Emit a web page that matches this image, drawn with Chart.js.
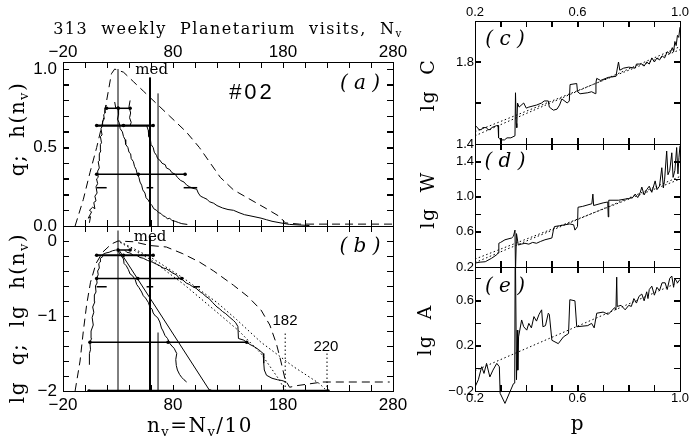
<!DOCTYPE html>
<html lang="en">
<head>
<meta charset="UTF-8">
<title>Planetarium visits</title>
<style>
body{margin:0;background:#fff}
#fig{position:relative;width:690px;height:439px;overflow:hidden}
#fig canvas{position:absolute}
.t{position:absolute;white-space:pre;font:20px "DejaVu Serif",serif;letter-spacing:1.5px;transform:translate(-50%,-50%)}
.r{transform:translate(-50%,-50%) rotate(-90deg)}
.t sub{font-size:.65em;vertical-align:baseline;position:relative;top:.3em}
</style>
</head>
<body>
<div id="fig">
<canvas id="pa"></canvas><canvas id="pb"></canvas><canvas id="pc"></canvas><canvas id="pd"></canvas><canvas id="pe"></canvas>
<div class="t" style="left:228px;top:28px;font-size:16px">313  weekly  Planetarium  visits,  N<sub>v</sub></div>
<div class="t r" style="left:17px;top:129px">q;  h(n<sub>v</sub>)</div>
<div class="t r" style="left:17px;top:318px">lg  q;  lg  h(n<sub>v</sub>)</div>
<div class="t" style="left:200px;top:425px">n<sub>v</sub>=N<sub>v</sub>/10</div>
<div class="t r" style="left:427px;top:85px;font-size:19px">lg  C</div>
<div class="t r" style="left:427px;top:200px;font-size:19px">lg  W</div>
<div class="t r" style="left:424px;top:330px;font-size:19px">lg  A</div>
<div class="t" style="left:578px;top:423px">p</div>
</div>
<script src="https://cdn.jsdelivr.net/npm/chart.js"></script>
<script>
// tick labels
const nLabels=[-20,80,180,280], qLabels=[0,0.5,1], lgqLabels=[-2,-1,0];
const pLabels=[0.2,0.6,1], cLabels=[1.4,1.8], wLabels=[0.2,0.6,1,1.4], aLabels=[-0.2,0.2,0.6];

// (a) q and h(n_v)
const hDashA=[[-9,0],[-1.5,.17],[4.5,.34],[10.6,.5],[16.7,.68],[19.7,.8],[24,.97],[27,1],[35,.98],[44,.92],[53,.86],[65,.78],[77,.7],[92,.6],[104,.5],[114,.4],[123,.31],[135,.23],[150,.17],[165,.11],[177,.06],[182,.02],[195,.012],[280,.012]];
const qRiseA=[[4,.02],[5,.06],[3,.05],[6,.09],[4,.1],[7,.12],[9,.11],[8,.15],[10,.16],[9,.19],[11,.21],[10,.25],[11.5,.27],[10.5,.3],[12,.31],[11.5,.35],[13,.37],[12,.41],[13.5,.42],[13,.46],[14.5,.48],[14,.52],[15,.53],[14,.57],[15.5,.58],[14.5,.62],[16,.64],[16,.67],[17.5,.68],[17,.71],[18.5,.72],[18,.75],[19.5,.77]];
const qMidA=[[27,.79],[28,.75],[30,.76],[30.5,.71],[29.5,.68],[31,.66],[32,.62],[34,.6],[35,.57],[36.5,.55],[37,.52],[39,.5],[40,.47],[41.5,.46],[42,.43],[44,.41],[45,.38],[46.5,.36],[47.5,.33],[49,.31],[50,.28],[51.5,.26],[52.5,.23],[54.5,.21],[55.5,.18],[57.5,.165],[59,.145],[61,.13],[62.5,.11],[65,.1],[67,.085],[69,.08],[71,.065],[73,.06],[75,.045],[77,.05],[79,.035],[82,.03],[85,.022],[88,.015],[93,.01]];
const qRightA=[[41,.8],[40,.76],[41.5,.72],[40.5,.69],[42,.66],[41,.64],[56,.64],[57.5,.61],[58,.57],[59.5,.55],[60,.52],[62,.5],[63,.47],[65,.45],[66,.43],[68,.42],[70,.4],[73,.39],[74,.37],[77,.36],[79,.34],[82,.33],[84,.31],[87,.29],[90,.28],[92.5,.26],[95,.25],[98,.24],[101.5,.235],[103,.21],[105,.19],[108,.18],[111,.17],[113,.155],[117,.145],[120,.13],[125,.115],[130,.105],[135,.1],[140,.085],[145,.072],[150,.065],[160,.05],[165,.04],[170,.03],[180,.017],[186,.01],[204,.003]];
const vertA=[[30,1],[66.4,.845]], medA=[59.1,.947];
const barsA=[[[19.7,.75],[30.3,.75],[41,.75]],[[10.6,.64],[35,.64],[62,.64]],[[10.6,.33],[48.5,.33],[91,.33]]];
const capsA=[[[10.6,.244],[19.7,.244]],[[56,.244],[62,.244]],[[89.7,.244],[102,.244]]];

// (b) lg q and lg h(n_v)
const hDashB=[[-9,-2],[-4.5,-1.6],[-1.5,-1.2],[1.5,-.85],[5,-.55],[10,-.3],[16,-.15],[24,-.04],[30,0],[44,-.01],[59,-.06],[74,-.08],[89,-.17],[104,-.28],[117,-.4],[135,-.59],[148,-.74],[160,-.92],[168,-1.12],[174,-1.37],[178,-1.6],[182,-1.85],[186,-1.95],[192,-1.93],[216,-1.88],[277,-1.88]];
const lgRiseB=[[4,-1.65],[4,-1.5],[5,-1.45],[4.5,-1.35],[6,-1.3],[5.5,-1.2],[7.5,-1.12],[6.5,-1.02],[8,-.95],[7,-.88],[9,-.81],[8.5,-.72],[10,-.68],[9.5,-.6],[11,-.56],[10.5,-.5],[12,-.45],[11.5,-.4],[13,-.36],[12.5,-.3],[14,-.28],[14,-.23],[16,-.21],[16,-.18],[19,-.16],[22,-.15],[25,-.13],[28,-.12]];
const lgMidB=[[30,-.12],[31.5,-.17],[33,-.2],[35,-.24],[35.5,-.3],[37.5,-.33],[39.4,-.38],[41,-.44],[43,-.46],[45.5,-.51],[47,-.58],[49,-.62],[51.5,-.68],[53,-.73],[55,-.76],[57.6,-.82],[59,-.88],[61,-.91],[62,-.96],[64,-1],[66,-1.02],[68,-1.08],[69.5,-1.16],[71,-1.2],[72.7,-1.26],[75,-1.3],[77.3,-1.37],[79,-1.4],[81,-1.43],[83.4,-1.5],[82.5,-1.58],[83,-1.66],[84,-1.72],[86,-1.78],[88,-1.82],[90,-1.85],[92.4,-1.88]];
const lgFitB=[[30,-.1],[113.6,-2]];
const lgRightB=[[36,-.12],[38,-.15],[41,-.16],[44,-.19],[47,-.19],[50,-.22],[53,-.23],[57,-.26],[61,-.28],[65,-.31],[68,-.33],[71,-.36],[74,-.37],[77,-.4],[80,-.43],[83,-.45],[86,-.5],[89,-.52],[92,-.56],[95,-.58],[98,-.61],[101,-.63],[104,-.67],[107,-.7],[110,-.74],[113,-.77],[116,-.82],[120,-.88],[122,-.9],[125,-.94],[128,-.97],[131,-1.01],[135,-1.06],[137,-1.09],[139,-1.14],[139.5,-1.3],[144,-1.32],[147,-1.35],[150,-1.38],[154,-1.41],[158,-1.45],[162,-1.5],[162.5,-1.63],[163,-1.72],[165,-1.79],[170,-1.83],[175,-1.85],[179,-1.86],[183,-1.88]];
const dot182=[[32,-.02],[60,-.25],[90,-.58],[120,-.95],[140,-1.2],[160,-1.5],[177,-1.86],[182,-2]];
const dot220=[[32,-.01],[60,-.22],[90,-.5],[120,-.82],[138,-1.05],[160,-1.35],[190,-1.68],[213,-1.9],[220,-2]];
const cutoffs=[[182,-1.21],[220,-1.5]], vertB=[[30,.14],[66.4,-1.22]], medB=[59.1,.05];
const barsB=[[[30,-.12],[41,-.12]],[[10.6,-.19],[35,-.19],[62,-.19]],[[10.6,-.5],[48,-.5],[88,-.5]],[[4.5,-1.35],[75.5,-1.35],[147,-1.35]]];
const capsB=[[[10.6,-.61],[19.7,-.61]],[[56,-.61],[62,-.61]],[[98.5,-.61],[104.5,-.61]]];
const baseB=[[3.6,-2],[113.6,-2],[221,-2]];

// (c)-(e) versus p
const lgC=[[.2,1.49],[.21,1.48],[.215,1.47],[.225,1.47],[.23,1.48],[.245,1.48],[.25,1.47],[.26,1.47],[.265,1.48],[.285,1.49],[.29,1.49],[.292,1.43],[.3,1.42],[.315,1.42],[.325,1.43],[.34,1.43],[.356,1.44],[.358,1.65],[.361,1.5],[.363,1.48],[.366,1.6],[.372,1.58],[.39,1.6],[.4,1.575],[.41,1.58],[.44,1.59],[.46,1.6],[.47,1.61],[.486,1.61],[.49,1.58],[.506,1.565],[.52,1.57],[.53,1.59],[.539,1.62],[.56,1.6],[.568,1.61],[.571,1.69],[.597,1.695],[.6,1.655],[.61,1.645],[.64,1.65],[.655,1.655],[.669,1.646],[.672,1.7],[.675,1.72],[.69,1.71],[.72,1.725],[.75,1.73],[.757,1.78],[.76,1.8],[.765,1.76],[.78,1.77],[.8,1.775],[.825,1.77],[.83,1.79],[.85,1.79],[.86,1.78],[.87,1.8],[.88,1.79],[.89,1.82],[.9,1.8],[.91,1.82],[.92,1.81],[.93,1.83],[.94,1.82],[.95,1.85],[.96,1.84],[.97,1.87],[.975,1.85],[.98,1.9],[.985,1.88],[.99,1.93],[.995,1.92],[1,1.97]];
const fitC=[[[.2,1.44],[1,1.875]],[[.2,1.46],[1,1.86]]];
const lgW=[[.2,.245],[.22,.255],[.24,.26],[.265,.3],[.285,.34],[.291,.36],[.293,.47],[.3,.48],[.317,.51],[.343,.53],[.35,.55],[.356,.62],[.358,.15],[.362,.58],[.369,.45],[.38,.46],[.395,.47],[.41,.46],[.425,.48],[.44,.47],[.455,.49],[.473,.51],[.5,.53],[.506,.62],[.51,.66],[.53,.67],[.57,.69],[.585,.68],[.59,.62],[.6,.66],[.602,.88],[.62,.89],[.656,.92],[.66,1.03],[.663,.9],[.7,.93],[.718,.94],[.72,.77],[.722,.96],[.76,.96],[.8,.98],[.815,.99],[.825,1.03],[.835,.99],[.845,1.05],[.851,1.11],[.86,1.02],[.87,1.08],[.88,1.12],[.89,1.05],[.903,1.18],[.91,1.08],[.92,1.12],[.929,1.33],[.935,1.1],[.94,1.2],[.948,1.52],[.953,1.25],[.96,1.3],[.968,1.5],[.973,1.22],[.98,1.3],[.987,1.56],[.992,1.26],[.996,1.45],[1,1.58]];
const fitW=[[[.2,.25],[1,1.23]],[[.2,.29],[1,1.2]]];
const lgA=[[.2,.1],[.201,-.16],[.213,-.1],[.226,.015],[.235,-.044],[.245,.045],[.258,-.075],[.27,-.015],[.285,.045],[.295,.015],[.298,-.22],[.317,-.31],[.35,-.135],[.355,-.13],[.357,1.2],[.362,-.1],[.365,.34],[.367,-.015],[.37,.28],[.382,.43],[.39,.37],[.402,.34],[.41,.4],[.42,.36],[.43,.46],[.44,.42],[.45,.48],[.46,.52],[.465,.37],[.475,.38],[.486,.49],[.49,.48],[.5,.25],[.525,.22],[.545,.28],[.565,.31],[.57,.61],[.59,.6],[.597,.37],[.64,.38],[.655,.4],[.665,.36],[.675,.49],[.7,.5],[.72,.48],[.745,.54],[.75,.52],[.753,.81],[.755,.55],[.77,.56],[.786,.52],[.8,.56],[.81,.55],[.82,.62],[.83,.58],[.84,.64],[.851,.66],[.86,.6],[.87,.68],[.875,.62],[.88,.7],[.89,.73],[.9,.65],[.91,.72],[.92,.69],[.93,.76],[.942,.76],[.95,.7],[.96,.8],[.968,.82],[.975,.72],[.98,.8],[.99,.76],[1,.79]];
const fitA=[[.2,-.02],[1,.77]];

const SANS='"Liberation Sans",Arial,sans-serif', SERIF='"DejaVu Serif",serif', TICK=6;
const fmt=(v,d)=>v.toFixed(d).replace('-','\u2212');

// fixed axis thickness keeps each plot area in place
const fixedSize=size=>s=>{
  if(s.isHorizontal()) s.height=size; else s.width=size;
  s.paddingLeft=s.paddingRight=s.paddingTop=s.paddingBottom=0;
};
function axis(position,min,max,step,size,labels,o){
  o=o||{};
  return {type:'linear',position,min,max,afterFit:fixedSize(size),
    border:{display:true,color:'#000',width:1},
    grid:{drawOnChartArea:false,drawTicks:true,tickLength:-6,color:'#000'},
    ticks:{stepSize:step,autoSkip:false,maxRotation:0,includeBounds:false,display:!!labels,padding:o.pad||0,color:'#000',
      font:{family:SANS,size:o.font||13},
      callback:v=>(labels&&labels.some(l=>Math.abs(l-v)<1e-6))?fmt(v,o.digits||0):''}};
}
const line=(pts,st)=>Object.assign({data:pts.map(([x,y])=>({x,y})),borderColor:'#000',borderWidth:1,pointRadius:0,fill:false,tension:0},st||{});
const vline=(x,y0,y1,st)=>line([[x,y0],[x,y1]],st);
const dashed={borderDash:[8,5]}, dotted={borderDash:[1.5,2.5]};
const dotBar=w=>({borderWidth:w,pointRadius:1.8,pointBackgroundColor:'#000',pointBorderWidth:0});

// inward frame ticks on four sides, then notes in data coordinates
function decor(notes){
  return {id:'decor',afterDraw(chart){
    const {ctx,chartArea:a}=chart;
    ctx.save();ctx.setLineDash([]);ctx.strokeStyle='#000';ctx.lineWidth=1;ctx.beginPath();
    for(const s of Object.values(chart.scales)){
      for(const t of s.ticks){
        const p=Math.round(s.getPixelForValue(t.value))+0.5;
        if(s.position==='top'){ctx.moveTo(p,a.top);ctx.lineTo(p,a.top+TICK);}
        else if(s.position==='bottom'){ctx.moveTo(p,a.bottom);ctx.lineTo(p,a.bottom-TICK);}
        else if(s.position==='left'){ctx.moveTo(a.left,p);ctx.lineTo(a.left+TICK,p);}
        else {ctx.moveTo(a.right,p);ctx.lineTo(a.right-TICK,p);}
      }
    }
    ctx.stroke();ctx.restore();
    const xs=chart.scales.x, ys=chart.scales.y;
    for(const n of notes){
      ctx.save();ctx.font=n.font;ctx.fillStyle='#000';ctx.textAlign='center';ctx.textBaseline='middle';
      if(n.sp) ctx.letterSpacing=n.sp;
      ctx.fillText(n.text,xs.getPixelForValue(n.x),ys.getPixelForValue(n.y));
      ctx.restore();
    }
  }};
}
function panel(id,b,scales,datasets,notes){
  const cv=document.getElementById(id);
  cv.width=b.w;cv.height=b.h;cv.style.left=b.x+'px';cv.style.top=b.y+'px';
  return new Chart(cv,{type:'line',data:{datasets},
    options:{responsive:false,animation:false,events:[],layout:{padding:0},
      plugins:{legend:{display:false},tooltip:{enabled:false}},scales},
    plugins:[decor(notes)]});
}
const ital='italic 20px '+SERIF;

panel('pa',{x:0,y:30,w:420,h:206},{
  x:axis('bottom',-20,280,20,10),
  x2:axis('top',-20,280,20,32,nLabels,{font:17,pad:5}),
  y:axis('left',0,1.045,0.1,63,qLabels,{font:17,pad:12,digits:1}),
  y2:axis('right',0,1.045,0.1,27)
},[line(hDashA,dashed),line(qRiseA),line(qMidA),line(qRightA),
  ...vertA.map(([x,t])=>vline(x,0,t)),vline(medA[0],0,medA[1],{borderWidth:2}),
  line(barsA[0],dotBar(1.5)),line(barsA[1],dotBar(2.2)),line(barsA[2],dotBar(1.5)),
  ...capsA.map(c=>line(c,{borderWidth:1.5}))
],[{text:'med',x:60.6,y:.994,font:'15px '+SERIF},{text:'#02',x:151.8,y:.847,font:'22px '+SANS,sp:'3px'},{text:'( a )',x:250,y:.904,font:ital}]);

panel('pb',{x:0,y:220,w:420,h:219},{
  x:axis('bottom',-20,280,20,48,nLabels,{font:17,pad:10}),
  x2:axis('top',-20,280,20,6),
  y:axis('left',-2,0.2,0.2,63,lgqLabels,{font:17,pad:12}),
  y2:axis('right',-2,0.2,0.2,27)
},[line(hDashB,dashed),line(lgRiseB),line(lgMidB),line(lgRightB),line(lgFitB),
  line(dot182,dotted),line(dot220,dotted),...cutoffs.map(([x,t])=>vline(x,-2,t,dotted)),
  ...vertB.map(([x,t])=>vline(x,-2,t)),vline(medB[0],-2,medB[1],{borderWidth:2}),
  line(barsB[0],dotBar(1.5)),line(barsB[1],dotBar(2.2)),line(barsB[2],dotBar(1.5)),line(barsB[3],dotBar(1.5)),
  ...capsB.map(c=>line(c,{borderWidth:1.5})),line(baseB,dotBar(2.5))
],[{text:'med',x:59.1,y:.05,font:'15px '+SERIF},{text:'( b )',x:250,y:-.08,font:ital},
  {text:'182',x:181.8,y:-1.07,font:'15px '+SANS},{text:'220',x:219,y:-1.41,font:'15px '+SANS}]);

panel('pc',{x:400,y:0,w:290,h:154},{
  x:axis('bottom',.2,1,.1,10),
  x2:axis('top',.2,1,.1,21,pLabels,{pad:7,digits:1}),
  y:axis('left',1.4,2,.2,75,cLabels,{pad:7,digits:1}),
  y2:axis('right',1.4,2,.2,10)
},[line(lgC),...fitC.map(f=>line(f,dotted))],[{text:'( c )',x:.317,y:1.91,font:ital}]);

panel('pd',{x:400,y:136,w:290,h:141},{
  x:axis('bottom',.2,1,.1,10),
  x2:axis('top',.2,1,.1,8),
  y:axis('left',.2,1.6,.2,75,wLabels,{pad:7,digits:1}),
  y2:axis('right',.2,1.6,.2,10)
},[line(lgW),...fitW.map(f=>line(f,dotted))],[{text:'( d )',x:.317,y:1.398,font:ital}]);

panel('pe',{x:400,y:259,w:290,h:180},{
  x:axis('bottom',.2,1,.1,48,pLabels,{pad:6,digits:1}),
  x2:axis('top',.2,1,.1,8),
  y:axis('left',-.2,.9,.2,75,aLabels,{pad:7,digits:1}),
  y2:axis('right',-.2,.9,.2,10)
},[line(lgA,{clip:{left:0,top:0,right:0,bottom:14}}),line(fitA,dotted)],[{text:'( e )',x:.317,y:.728,font:ital}]);
</script>
</body>
</html>
